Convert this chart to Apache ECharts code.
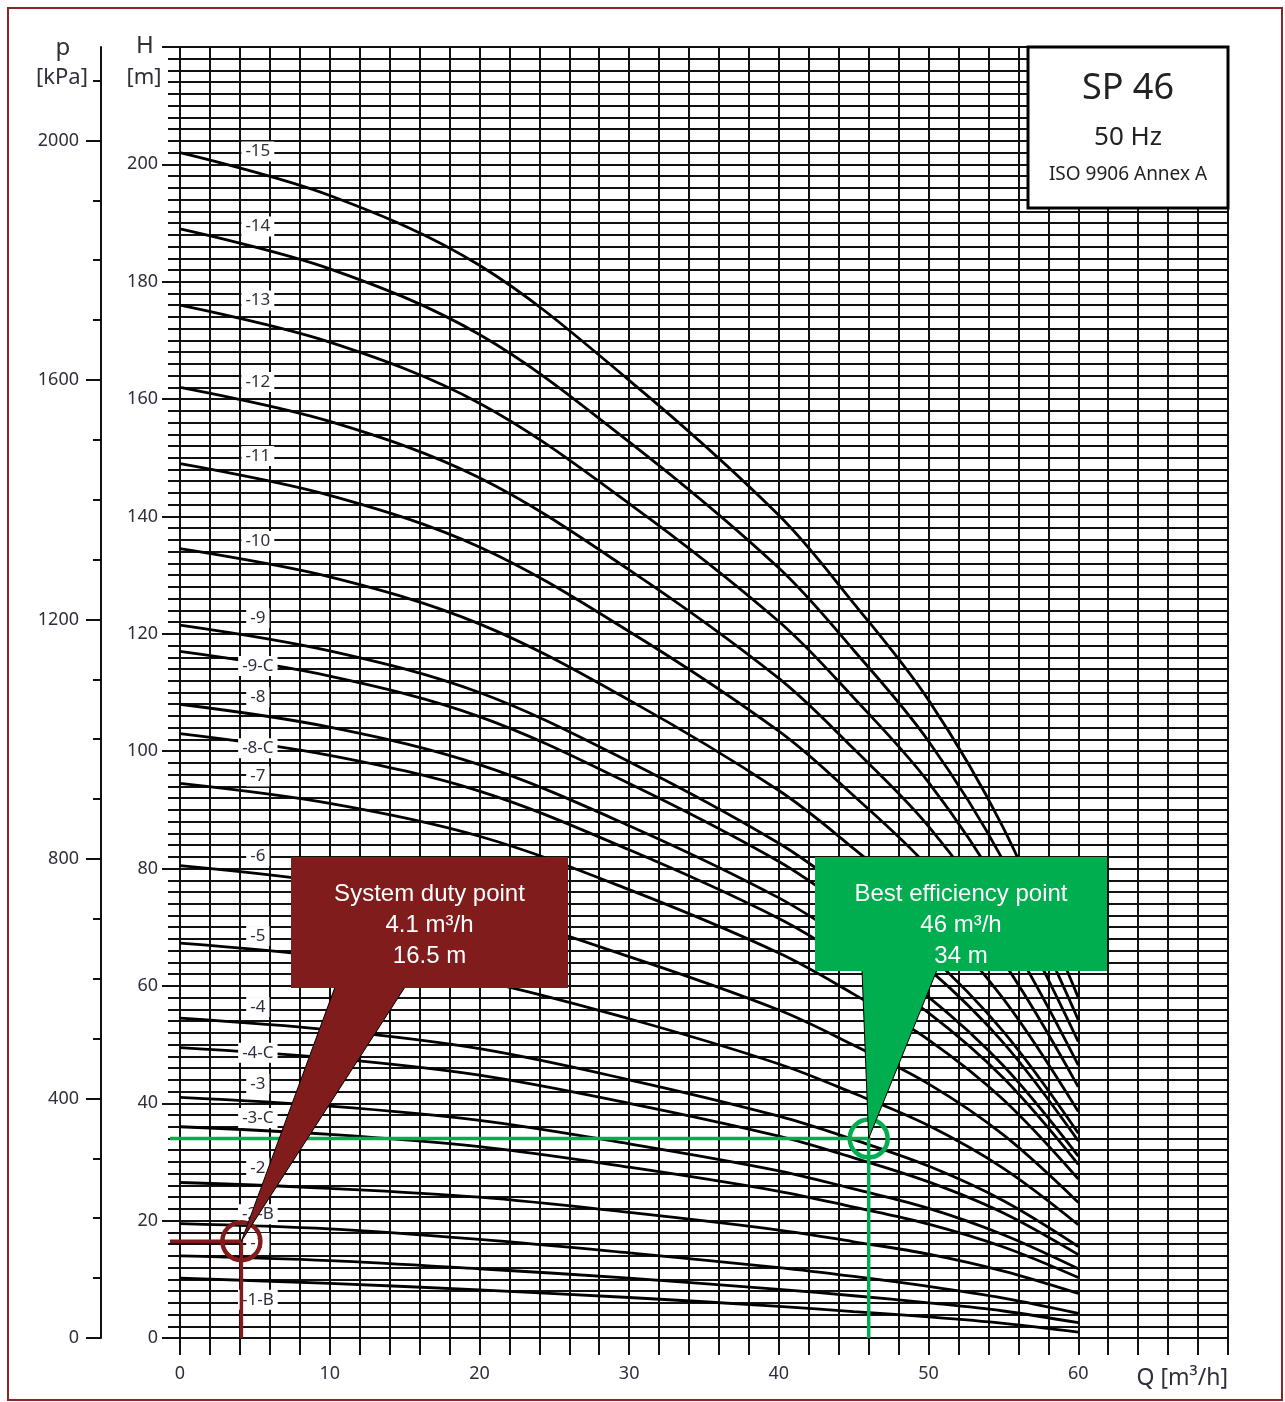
<!DOCTYPE html>
<html>
<head>
<meta charset="utf-8">
<script src="https://cdn.jsdelivr.net/npm/echarts@6/dist/echarts.min.js"></script>
<style>
  html, body { margin: 0; padding: 0; background: #fff; }
  #chart { width: 1285px; height: 1402px; }
</style>
</head>
<body>
<div id="chart"></div>
<script>
// Flow rates (m³/h) at which each performance curve is tabulated
const flowQ = [0, 10, 20, 30, 40, 45, 50, 55, 60];

// Head (m) per pump variant at the flows above
const head15  = [202, 194.7, 182.8, 163.2, 140.2, 125.2, 108.7, 86.9, 58.0];
const head14  = [189, 182.2, 171.0, 152.7, 131.2, 117.2, 101.7, 81.3, 54.2];
const head13  = [176, 169.7, 159.3, 142.2, 122.1, 109.1, 94.7, 75.7, 50.5];
const head12  = [162, 156.2, 146.6, 130.9, 112.4, 100.4, 87.2, 69.7, 46.5];
const head11  = [149, 143.6, 134.8, 120.4, 103.4, 92.4, 80.2, 64.1, 42.8];
const head10  = [134.5, 129.7, 121.7, 108.7, 93.3, 83.4, 72.4, 57.8, 38.6];
const head9   = [121.5, 117.1, 110.0, 98.2, 84.3, 75.3, 65.4, 52.2, 34.9];
const head9C  = [117, 112.8, 105.9, 94.5, 81.2, 72.5, 62.9, 50.3, 33.6];
const head8   = [108, 104.1, 97.7, 87.3, 75.0, 67.0, 58.1, 46.4, 31.0];
const head8C  = [103, 99.3, 93.2, 83.2, 71.5, 63.9, 55.4, 44.3, 29.6];
const head7   = [94.5, 91.1, 85.5, 76.4, 65.6, 58.6, 50.8, 40.6, 27.1];
const head6   = [80.5, 77.6, 72.9, 65.0, 55.9, 49.9, 43.3, 34.6, 23.1];
const head5   = [67.3, 64.9, 60.9, 54.4, 46.7, 41.7, 36.2, 28.9, 19.3];
const head4   = [54.5, 52.5, 49.3, 44.0, 37.8, 33.8, 29.3, 23.4, 15.6];
const head4C  = [49.5, 47.7, 44.8, 40.0, 34.4, 30.7, 26.6, 21.3, 14.2];
const head3   = [41, 39.5, 37.1, 33.1, 28.5, 25.4, 22.1, 17.6, 11.8];
const head3C  = [36, 34.7, 32.6, 29.1, 25.0, 22.3, 19.4, 15.5, 10.3];
const head2   = [26.5, 25.5, 24.0, 21.4, 18.4, 16.4, 14.3, 11.4, 7.6];
const head2B  = [19.5, 18.6, 16.8, 14.5, 12.0, 10.5, 8.8, 6.8, 4.2];
const head1   = [14, 13.2, 11.8, 10.2, 8.3, 7.2, 6.0, 4.6, 2.6];
const head1B  = [10.2, 9.3, 8.2, 6.9, 5.4, 4.5, 3.6, 2.5, 1.0];

const curveNames = ['-15', '-14', '-13', '-12', '-11', '-10', '-9', '-9-C', '-8', '-8-C',
                    '-7', '-6', '-5', '-4', '-4-C', '-3', '-3-C', '-2', '-2-B', '-1', '-1-B'];
const curveHeads = [head15, head14, head13, head12, head11, head10, head9, head9C, head8, head8C,
                    head7, head6, head5, head4, head4C, head3, head3C, head2, head2B, head1, head1B];
// Head (m) at which each variant's tag is written
const tagHeads = [202.2, 189.4, 176.8, 162.9, 150.3, 135.8, 122.7, 114.5, 109.2, 100.5,
                  95.7, 82.1, 68.5, 56.4, 48.6, 43.3, 37.5, 29.0, 21.1, 16.2, 6.5];
const tagFlow = 5.2;

// Axis ticks
const flowLabels = [0, 10, 20, 30, 40, 50, 60];
const headLabels = [0, 20, 40, 60, 80, 100, 120, 140, 160, 180, 200];
const pressureMinor = [0, 100, 200, 300, 400, 500, 600, 700, 800, 900, 1000, 1100,
                       1200, 1300, 1400, 1500, 1600, 1700, 1800, 1900, 2000, 2100];
const pressureLabels = [0, 400, 800, 1200, 1600, 2000];
const headMax = 220;
const kPaPerMetre = 9.8;

// Annotated operating points [Q m³/h, H m]
const dutyPoint = [4.1, 16.5];
const bestPoint = [46, 34];

const INK = '#111';
const TEXT = '#2e2e3c';
const FONT = "'Noto Sans', 'Open Sans', sans-serif";
const RED = '#801c1c';
const GREEN = '#00ad4f';

const chart = echarts.init(document.getElementById('chart'), null, { renderer: 'canvas' });

const curveSeries = curveHeads.map((heads, i) => ({
  name: curveNames[i],
  type: 'line',
  xAxisIndex: 0,
  yAxisIndex: 0,
  data: flowQ.map((q, k) => [q, heads[k]]),
  smooth: 0.35,
  symbol: 'none',
  lineStyle: { color: '#000', width: 2.8 },
  z: 3,
  silent: true
}));

const tagSeries = {
  type: 'scatter',
  xAxisIndex: 0,
  yAxisIndex: 0,
  symbolSize: 1,
  itemStyle: { opacity: 0 },
  data: curveNames.map((n, i) => ({ value: [tagFlow, tagHeads[i]], name: n })),
  label: {
    show: true,
    opacity: 1,
    position: 'inside',
    formatter: p => p.name,
    backgroundColor: '#fff',
    padding: [2, 4, 1, 4],
    color: TEXT,
    fontFamily: FONT,
    fontSize: 17
  },
  z: 5,
  silent: true
};

const pointSeries = [
  { pt: dutyPoint, color: RED },
  { pt: bestPoint, color: GREEN }
].map(o => ({
  type: 'scatter',
  xAxisIndex: 0,
  yAxisIndex: 0,
  data: [o.pt],
  symbol: 'circle',
  symbolSize: 38,
  itemStyle: { color: 'rgba(0,0,0,0)', borderColor: o.color, borderWidth: 4.5, opacity: 1 },
  z: 8,
  silent: true
}));

const plainNumber = v => String(v);

const option = {
  animation: false,
  backgroundColor: '#fff',
  grid: { left: 180, right: 57, top: 47, bottom: 64 },
  xAxis: {
    type: 'value',
    min: 0, max: 70, interval: 2,
    axisLine: { show: false },
    axisTick: { show: true, length: 17, lineStyle: { color: INK, width: 2 } },
    splitLine: { show: true, lineStyle: { color: INK, width: 2 } },
    axisLabel: {
      customValues: flowLabels,
      formatter: plainNumber,
      margin: 27,
      color: TEXT, fontFamily: FONT, fontSize: 18
    }
  },
  yAxis: [
    {
      type: 'value', position: 'left',
      min: 0, max: headMax, interval: 2,
      axisLine: { show: false },
      axisTick: { show: true, length: 12, lineStyle: { color: INK, width: 2 } },
      splitLine: { show: true, lineStyle: { color: INK, width: 2 } },
      axisLabel: { show: false }
    },
    {
      type: 'value', position: 'left',
      min: 0, max: headMax, interval: 20,
      axisLine: { show: false },
      axisTick: { show: true, length: 18, lineStyle: { color: INK, width: 2 } },
      splitLine: { show: false },
      axisLabel: {
        customValues: headLabels,
        formatter: plainNumber,
        margin: 22, color: TEXT, fontFamily: FONT, fontSize: 18
      }
    },
    {
      type: 'value', position: 'left', offset: 79,
      min: 0, max: headMax * kPaPerMetre,
      axisLine: { show: true, lineStyle: { color: INK, width: 2 } },
      axisTick: { show: true, customValues: pressureMinor, length: 8, lineStyle: { color: INK, width: 2 } },
      splitLine: { show: false },
      axisLabel: { show: false }
    },
    {
      type: 'value', position: 'left', offset: 79,
      min: 0, max: headMax * kPaPerMetre,
      axisLine: { show: false },
      axisTick: { show: true, customValues: pressureLabels, length: 15, lineStyle: { color: INK, width: 2 } },
      splitLine: { show: false },
      axisLabel: {
        customValues: pressureLabels,
        formatter: plainNumber,
        margin: 22, color: TEXT, fontFamily: FONT, fontSize: 18
      }
    }
  ],
  series: [...curveSeries, tagSeries, ...pointSeries]
};

chart.setOption(option);

// Overlays positioned from data through the chart's own coordinate system
const toPx = p => chart.convertToPixel({ xAxisIndex: 0, yAxisIndex: 0 }, p);
const duty = toPx(dutyPoint);
const best = toPx(bestPoint);
const dutyFoot = toPx([dutyPoint[0], 0]);
const bestFoot = toPx([bestPoint[0], 0]);
const lineStart = 170;

function callout(box, base, tip, fill, lines) {
  const [x, y, w, h] = box;
  return [
    {
      type: 'polygon', z: 20,
      shape: { points: [[base[0], y + h - 1], [base[1], y + h - 1], tip] },
      style: { fill: fill, stroke: '#000', lineWidth: 1 }
    },
    {
      type: 'rect', z: 21,
      shape: { x: x, y: y, width: w, height: h },
      style: { fill: fill }
    },
    {
      type: 'text', z: 22,
      style: {
        x: x + w / 2, y: y + 22,
        text: lines.join('\n'),
        align: 'center', verticalAlign: 'top',
        fill: '#fff', font: "24px 'Liberation Sans', Arial, sans-serif",
        lineHeight: 31
      }
    }
  ];
}

const titleFont = size => size + "px 'Noto Sans', sans-serif";

const graphics = [
  // outer frame
  {
    type: 'rect', z: 30,
    shape: { x: 8, y: 8, width: 1274, height: 1392 },
    style: { fill: 'none', stroke: '#8b2525', lineWidth: 2 }
  },
  // axis titles
  { type: 'text', z: 10, style: { x: 63, y: 48, text: 'p', align: 'center', verticalAlign: 'middle', fill: TEXT, font: titleFont(24) } },
  { type: 'text', z: 10, style: { x: 62, y: 78, text: '[kPa]', align: 'center', verticalAlign: 'middle', fill: TEXT, font: titleFont(22) } },
  { type: 'text', z: 10, style: { x: 145, y: 46, text: 'H', align: 'center', verticalAlign: 'middle', fill: TEXT, font: titleFont(24) } },
  { type: 'text', z: 10, style: { x: 144, y: 78, text: '[m]', align: 'center', verticalAlign: 'middle', fill: TEXT, font: titleFont(22) } },
  { type: 'text', z: 10, style: { x: 1228, y: 1378, text: 'Q [m³/h]', align: 'right', verticalAlign: 'middle', fill: TEXT, font: titleFont(23) } },
  // model box
  {
    type: 'rect', z: 10,
    shape: { x: 1028, y: 47, width: 200, height: 161 },
    style: { fill: '#fff', stroke: '#000', lineWidth: 3 }
  },
  { type: 'text', z: 11, style: { x: 1128, y: 89, text: 'SP 46', align: 'center', verticalAlign: 'middle', fill: '#222', font: titleFont(36) } },
  { type: 'text', z: 11, style: { x: 1128, y: 138, text: '50 Hz', align: 'center', verticalAlign: 'middle', fill: '#222', font: titleFont(26) } },
  { type: 'text', z: 11, style: { x: 1128, y: 175, text: 'ISO 9906 Annex A', align: 'center', verticalAlign: 'middle', fill: '#222', font: titleFont(19) } },
  // duty point guide lines
  {
    type: 'polyline', z: 7,
    shape: { points: [[lineStart, duty[1]], [duty[0], duty[1]], [duty[0], dutyFoot[1]]] },
    style: { stroke: RED, lineWidth: 3.5, fill: 'none' }
  },
  // best efficiency point guide lines
  {
    type: 'polyline', z: 7,
    shape: { points: [[lineStart, best[1]], [best[0], best[1]], [best[0], bestFoot[1]]] },
    style: { stroke: GREEN, lineWidth: 3.5, fill: 'none' }
  },
  ...callout([291, 857, 277, 131], [335, 405], duty, RED,
    ['System duty point', dutyPoint[0] + ' m³/h', dutyPoint[1] + ' m']),
  ...callout([815, 857, 292, 114], [862, 937], best, GREEN,
    ['Best efficiency point', bestPoint[0] + ' m³/h', bestPoint[1] + ' m'])
];

chart.setOption({ graphic: graphics });
</script>
</body>
</html>
